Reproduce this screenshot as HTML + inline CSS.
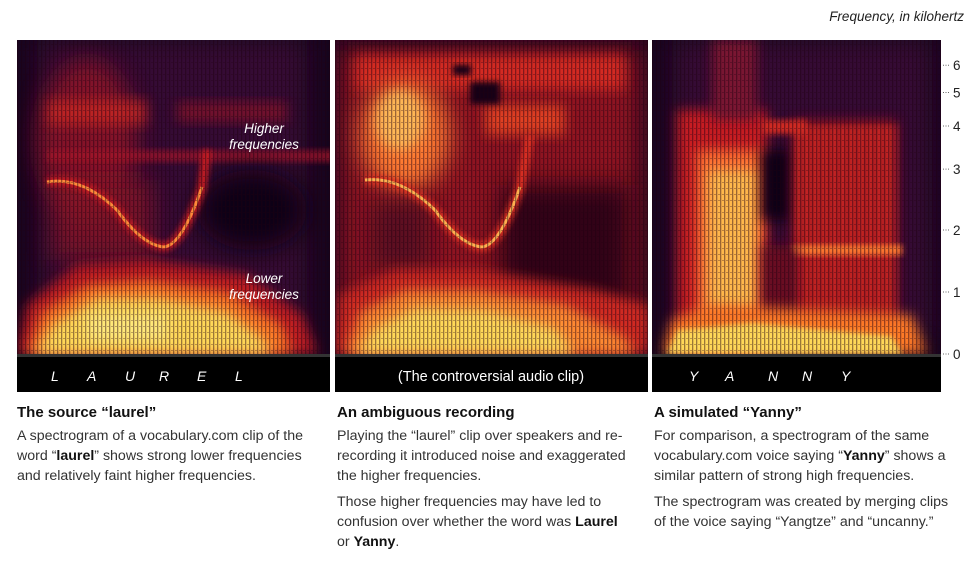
<!DOCTYPE html>
<html><head><meta charset="utf-8"><style>
body{margin:0;background:#fff;width:978px;height:564px;overflow:hidden;font-family:"Liberation Sans",sans-serif;color:#222}
.cap{position:absolute;top:404px;width:320px;white-space:nowrap}
.cap h3{margin:0 0 4px 0;font-size:15px;font-weight:bold;color:#111;line-height:18px}
.cap p{margin:0 0 6px 0;font-size:14.2px;line-height:20px;color:#333}
.cap b{color:#111}
#unit{position:absolute;left:760px;top:9px;width:204px;text-align:right;font-style:italic;font-size:13.5px;color:#222}
</style></head><body>
<div id="unit">Frequency, in kilohertz</div>
<svg id="chart" width="978" height="400" style="position:absolute;left:0;top:0">
<defs>
<filter id="b6" x="-30%" y="-30%" width="160%" height="160%"><feGaussianBlur stdDeviation="6"/></filter>
<filter id="b3" x="-30%" y="-30%" width="160%" height="160%"><feGaussianBlur stdDeviation="3"/></filter>
<filter id="b12" x="-30%" y="-30%" width="160%" height="160%"><feGaussianBlur stdDeviation="12"/></filter>
<pattern id="stripes" width="4" height="6" patternUnits="userSpaceOnUse"><rect x="0" y="0" width="1.3" height="6" fill="#200010" opacity="0.45"/><rect x="2" y="4" width="2" height="1" fill="#200010" opacity="0.3"/></pattern>
<pattern id="redstripes" width="9" height="10" patternUnits="userSpaceOnUse"><rect x="0" y="0" width="4" height="10" fill="#ff3a20" opacity="0.8"/></pattern>
<clipPath id="c1"><rect x="0" y="0" width="313" height="314"/></clipPath>
<clipPath id="c3"><rect x="0" y="0" width="289" height="314"/></clipPath>
</defs>

<!-- Panel 1 -->
<g transform="translate(17,40)">
<g clip-path="url(#c1)">
<rect width="313" height="314" fill="#16051e"/>
<rect x="20" y="0" width="270" height="314" fill="#3c0e3a" filter="url(#b12)" opacity="0.8"/>
<ellipse cx="70" cy="100" rx="50" ry="80" fill="#9a1628" filter="url(#b12)" opacity="0.8"/>
<rect x="30" y="60" width="100" height="25" fill="#d42a20" filter="url(#b6)" opacity="0.7"/>
<rect x="160" y="62" width="110" height="20" fill="#a01828" filter="url(#b6)" opacity="0.6"/>
<rect x="30" y="110" width="290" height="12" fill="#a8182a" filter="url(#b3)" opacity="0.7"/>
<rect x="35" y="140" width="100" height="80" fill="#8a1428" filter="url(#b12)" opacity="0.8"/>
<ellipse cx="235" cy="170" rx="55" ry="40" fill="#0a0212" filter="url(#b12)"/>
<path d="M30 142 Q65 136 100 170 Q125 205 147 207 Q165 205 185 147 L190 110" stroke="#c81e22" stroke-width="9" fill="none" filter="url(#b3)"/>
<path d="M30 142 Q65 136 100 170 Q125 205 147 207 Q165 205 185 147" stroke="#ff8a3a" stroke-width="3" fill="none"/>
<path d="M0 314 L10 265 L60 225 L130 220 L230 235 L285 275 L300 314Z" fill="#c01c20" filter="url(#b6)"/>
<path d="M10 314 L25 272 L70 245 L130 240 L210 252 L265 285 L275 314Z" fill="#ff7a28" filter="url(#b6)"/>
<path d="M18 314 L35 285 L80 258 L140 258 L210 272 L245 298 L255 314Z" fill="#ffd858" filter="url(#b6)"/>
<rect x="70" y="275" width="80" height="25" fill="#fff08a" filter="url(#b6)" opacity="0.7"/>
<rect width="313" height="314" fill="url(#stripes)"/>
</g>
<text x="247" y="93" fill="#fff" font-size="13.5" font-style="italic" text-anchor="middle">Higher</text>
<text x="247" y="109" fill="#fff" font-size="13.5" font-style="italic" text-anchor="middle">frequencies</text>
<text x="247" y="243" fill="#fff" font-size="13.5" font-style="italic" text-anchor="middle">Lower</text>
<text x="247" y="259" fill="#fff" font-size="13.5" font-style="italic" text-anchor="middle">frequencies</text>
<rect x="0" y="314" width="313" height="3" fill="#333"/>
<rect x="0" y="317" width="313" height="35" fill="#000"/>
<text y="341" fill="#fff" font-size="14" font-style="italic"><tspan x="34">L</tspan><tspan x="70">A</tspan><tspan x="108">U</tspan><tspan x="142">R</tspan><tspan x="180">E</tspan><tspan x="218">L</tspan></text>
</g>

<!-- Panel 2 -->
<g transform="translate(335,40)">
<g clip-path="url(#c1)">
<rect width="313" height="314" fill="#2a0620"/>
<rect x="5" y="10" width="300" height="300" fill="#9a1424" filter="url(#b12)" opacity="0.9"/>
<rect x="20" y="15" width="270" height="35" fill="#d42a20" filter="url(#b6)"/>
<ellipse cx="70" cy="95" rx="45" ry="55" fill="#ff7a30" filter="url(#b12)"/>
<ellipse cx="65" cy="80" rx="25" ry="30" fill="#ffc860" filter="url(#b6)" opacity="0.8"/>
<rect x="150" y="65" width="80" height="30" fill="#e04024" filter="url(#b6)"/>
<rect x="135" y="42" width="30" height="22" fill="#120214" filter="url(#b3)"/>
<rect x="118" y="25" width="18" height="10" fill="#120214" filter="url(#b3)"/>
<rect x="165" y="145" width="130" height="130" fill="#240418" filter="url(#b12)" opacity="0.85"/>
<rect x="35" y="160" width="60" height="70" fill="#4a0820" filter="url(#b12)" opacity="0.7"/>
<path d="M30 140 Q65 136 100 170 Q125 205 147 207 Q165 205 185 147 L195 95" stroke="#e03024" stroke-width="9" fill="none" filter="url(#b3)"/>
<path d="M30 140 Q65 136 100 170 Q125 205 147 207 Q165 205 185 147" stroke="#ffb050" stroke-width="3" fill="none"/>
<path d="M0 314 L5 255 L60 230 L140 230 L260 250 L313 265 L313 314Z" fill="#d02a20" filter="url(#b6)"/>
<path d="M10 314 L25 272 L70 250 L140 250 L230 265 L290 298 L300 314Z" fill="#ff8a30" filter="url(#b6)"/>
<path d="M20 314 L40 288 L80 268 L150 270 L220 288 L240 314Z" fill="#ffd858" filter="url(#b6)"/>
<rect width="313" height="314" fill="url(#stripes)"/>
</g>
<rect x="0" y="314" width="313" height="3" fill="#333"/>
<rect x="0" y="317" width="313" height="35" fill="#000"/>
<text x="156" y="341" fill="#fff" font-size="14.5" text-anchor="middle">(The controversial audio clip)</text>
</g>

<!-- Panel 3 -->
<g transform="translate(652,40)">
<g clip-path="url(#c3)">
<rect width="289" height="314" fill="#16051e"/>
<rect x="20" y="0" width="260" height="300" fill="#3c0e3a" filter="url(#b12)" opacity="0.8"/>
<rect x="25" y="70" width="90" height="244" fill="#c81e22" filter="url(#b6)"/>
<rect x="60" y="0" width="45" height="80" fill="#7a1230" filter="url(#b6)"/>
<rect x="45" y="110" width="65" height="204" fill="#ff7030" filter="url(#b6)"/>
<rect x="55" y="130" width="50" height="140" fill="#ffc050" filter="url(#b6)" opacity="0.9"/>
<rect x="110" y="110" width="30" height="70" fill="#0e0214" filter="url(#b6)"/>
<rect x="140" y="80" width="105" height="220" fill="#a01824" filter="url(#b6)" opacity="0.9"/>
<rect x="140" y="85" width="105" height="215" fill="url(#redstripes)" filter="url(#b3)"/>
<rect x="140" y="205" width="110" height="10" fill="#ff7a30" filter="url(#b3)"/>
<rect x="110" y="80" width="45" height="14" fill="#d02a20" filter="url(#b3)"/>
<rect x="110" y="205" width="35" height="80" fill="#6a0e24" filter="url(#b6)"/>
<path d="M10 314 L20 280 L60 265 L260 275 L275 314Z" fill="#ff7a28" filter="url(#b6)"/>
<path d="M15 314 L25 290 L100 283 L240 296 L250 314Z" fill="#ffd858" filter="url(#b3)"/>
<rect width="289" height="314" fill="url(#stripes)"/>
</g>
<rect x="0" y="314" width="289" height="3" fill="#333"/>
<rect x="0" y="317" width="289" height="35" fill="#000"/>
<text y="341" fill="#fff" font-size="14" font-style="italic"><tspan x="37">Y</tspan><tspan x="73">A</tspan><tspan x="116">N</tspan><tspan x="150">N</tspan><tspan x="189">Y</tspan></text>
</g>
<g id="axis"></g>
</svg>
<script>
const tickValues=[0,1,2,3,4,5,6];
const tickLabels=["0","1","2","3","4","5","6"];
// frequency axis: linear below 2 kHz, logarithmic above
function yScale(k){return k<=2?354-62*k:230-150*Math.log(k/2);}
const ax=document.getElementById('axis');const NS='http://www.w3.org/2000/svg';
tickValues.forEach((v,i)=>{const y=yScale(v);
const l=document.createElementNS(NS,'line');


l.setAttribute('x1',943);l.setAttribute('x2',950);l.setAttribute('y1',y);l.setAttribute('y2',y);
l.setAttribute('stroke','#666');l.setAttribute('stroke-dasharray','1,1.5');ax.appendChild(l);
const t=document.createElementNS(NS,'text');


t.setAttribute('x',953);t.setAttribute('y',y+5);t.setAttribute('font-size','13.5');t.setAttribute('fill','#222');
t.textContent=tickLabels[i];ax.appendChild(t);});
</script>
<div class="cap" style="left:17px"><h3>The source “laurel”</h3><p>A spectrogram of a vocabulary.com clip of the<br>word “<b>laurel</b>” shows strong lower frequencies<br>and relatively faint higher frequencies.</p></div>
<div class="cap" style="left:337px"><h3>An ambiguous recording</h3><p>Playing the “laurel” clip over speakers and re-<br>recording it introduced noise and exaggerated<br>the higher frequencies.</p><p>Those higher frequencies may have led to<br>confusion over whether the word was <b>Laurel</b><br>or <b>Yanny</b>.</p></div>
<div class="cap" style="left:654px"><h3>A simulated “Yanny”</h3><p>For comparison, a spectrogram of the same<br>vocabulary.com voice saying “<b>Yanny</b>” shows a<br>similar pattern of strong high frequencies.</p><p>The spectrogram was created by merging clips<br>of the voice saying “Yangtze” and “uncanny.”</p></div>
</body></html>
